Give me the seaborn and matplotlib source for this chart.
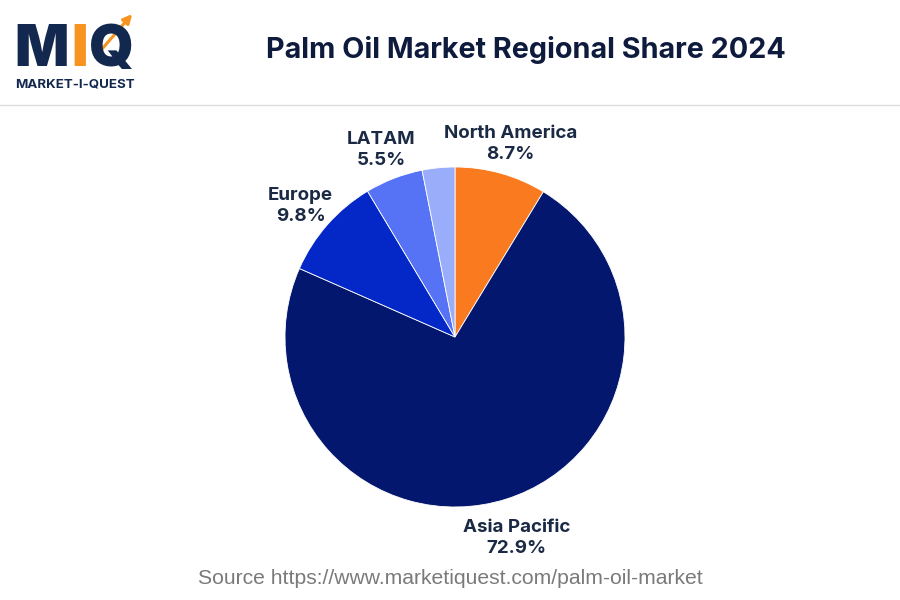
import matplotlib
matplotlib.use("Agg")
import matplotlib.pyplot as plt
import matplotlib.transforms as mtransforms
import seaborn as sns
import numpy as np

# Data
regions = ["North America", "Asia Pacific", "Europe", "LATAM", "MEA"]
shares = [8.7, 72.9, 9.8, 5.5, 3.1]
show_label = [True, True, True, True, False]
colors = ["#F97A1F", "#04176E", "#0428C8", "#5672F5", "#9AADFB"]

title = "Palm Oil Market Regional Share 2024"
source = "Source https://www.marketiquest.com/palm-oil-market"

sns.set_theme(style="white")
plt.rcParams['font.family'] = ['Inter', 'DejaVu Sans']

W, H = 900, 600
fig = plt.figure(figsize=(9, 6), dpi=100)
fig.patch.set_facecolor("white")

# pie axes: center (455,337) px, radius 170px, limits +-1.3
R = 170
half = 1.3 * R
ax = fig.add_axes([(455 - half) / W, (H - 337 - half) / H, 2 * half / W, 2 * half / H])

labels = [f"{r}\n{s}%" if sh else "" for r, s, sh in zip(regions, shares, show_label)]
wedges, texts = ax.pie(shares, colors=colors, startangle=90, counterclock=False,
                       labels=labels, labeldistance=1.21,
                       wedgeprops=dict(linewidth=0.6, edgecolor="white"),
                       textprops=dict(fontsize=13.5, fontweight="bold", color="#1B2A44",
                                      linespacing=1.3))
ax.set_xlim(-1.3, 1.3)
ax.set_ylim(-1.3, 1.3)
ax.set_aspect("equal")
ax.axis("off")
shifted = mtransforms.offset_copy(ax.transData, fig=fig, x=0, y=-5, units="dots")
for t in texts:
    t.set_ha("center")
    t.set_va("center")
    t.set_transform(shifted)

# Title
fig.text(526 / W, 1 - 50 / H, title, ha="center", va="center", fontsize=20.7,
         fontweight="bold", color="#0E1B3D")

# Separator line
fig.add_artist(plt.Line2D([0, 1], [1 - 105 / H, 1 - 105 / H], color="#DDDDDD", lw=1))

# Logo
fig.text(14 / W, 1 - 51 / H, "M", ha="left", va="center", fontsize=41, fontweight="black",
         color="#13284F")
fig.text(71 / W, 1 - 51 / H, "I", ha="left", va="center", fontsize=41, fontweight="black",
         color="#F7931E")
fig.text(89 / W, 1 - 51 / H, "Q", ha="left", va="center", fontsize=41, fontweight="black",
         color="#13284F")
fig.add_artist(matplotlib.patches.FancyArrowPatch((96 / W, 1 - 56 / H), (134 / W, 1 - 12 / H),
                                                  transform=fig.transFigure, arrowstyle="-|>",
                                                  mutation_scale=13, color="#F7931E", lw=2.2))
fig.text(15 / W, 1 - 84 / H, "MARKET-I-QUEST", ha="left", va="center", fontsize=9.6,
         fontweight="bold", color="#13284F")

# Source
fig.text(450 / W, 1 - 578 / H, source, ha="center", va="center", fontsize=15.2,
         color="#7A7A7A", family=["Liberation Sans", "DejaVu Sans"])

fig.savefig("out.png", dpi=100, facecolor="white")
